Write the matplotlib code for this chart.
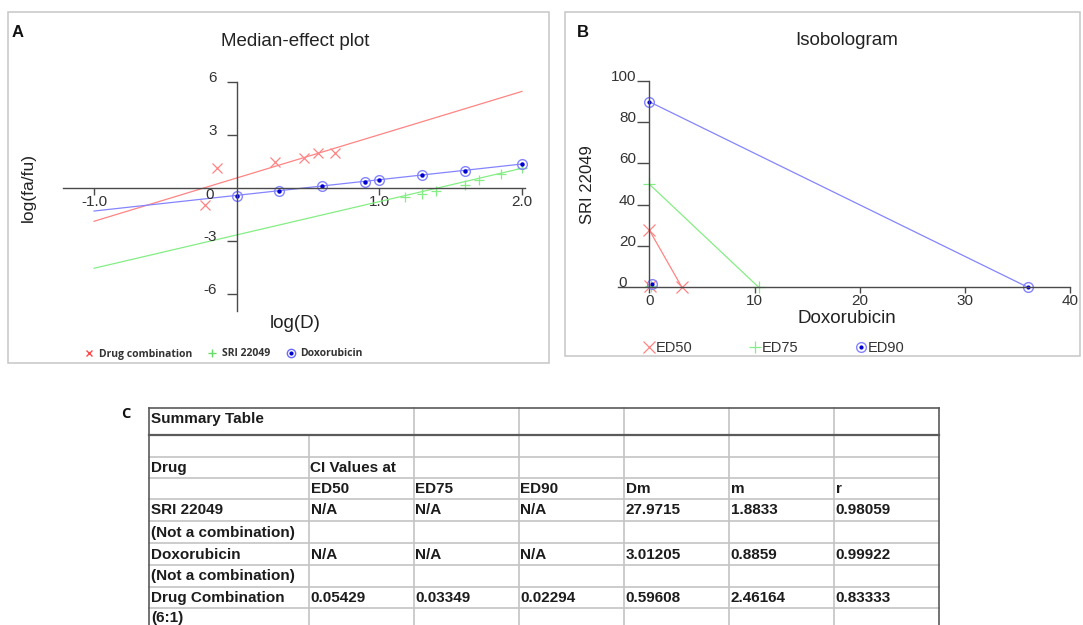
import matplotlib
matplotlib.use("Agg")
import matplotlib.pyplot as plt
from matplotlib.lines import Line2D
from matplotlib.patches import Rectangle

plt.rcParams['font.family'] = ['Liberation Sans', 'DejaVu Sans']

W, H = 1083, 625

# ---- panel A: median-effect plot (log D vs log(fa/fu)) ----
combo_logd = [-0.22, -0.14, 0.27, 0.47, 0.57, 0.69]
combo_logfa = [-0.98, 1.10, 1.47, 1.68, 1.98, 1.98]
sri_logd = [1.18, 1.30, 1.40, 1.60, 1.70, 1.85, 2.00]
sri_logfa = [-0.54, -0.36, -0.17, 0.15, 0.44, 0.78, 1.12]
dox_logd = [0.00, 0.30, 0.60, 0.90, 1.00, 1.30, 1.60, 2.00]
dox_logfa = [-0.45, -0.19, 0.11, 0.34, 0.44, 0.72, 0.96, 1.34]
fit_x = [-1.0, 2.0]
combo_fit = [-1.90, 5.45]
sri_fit = [-4.56, 1.10]
dox_fit = [-1.32, 1.34]

# ---- panel B: isobologram ----
ed_names = ['ED50', 'ED75', 'ED90']
sri_alone = [27.7, 49.9, 89.8]
dox_alone = [3.1, 10.4, 36.0]
mix_dox = [0.09, 0.14, 0.23]
mix_sri = [0.5, 0.85, 1.45]

# ---- panel C: summary table ----
table_title = 'Summary Table'
head1 = ['Drug', 'CI Values at', '', '', '', '', '']
head2 = ['', 'ED50', 'ED75', 'ED90', 'Dm', 'm', 'r']
drugs = ['SRI 22049', 'Doxorubicin', 'Drug Combination']
drug_notes = ['(Not a combination)', '(Not a combination)', '(6:1)']
ci50 = ['N/A', 'N/A', '0.05429']
ci75 = ['N/A', 'N/A', '0.03349']
ci90 = ['N/A', 'N/A', '0.02294']
dm = ['27.9715', '3.01205', '0.59608']
m_vals = ['1.8833', '0.8859', '2.46164']
r_vals = ['0.98059', '0.99922', '0.83333']

RED = '#ff8484'
GREEN = '#84ee84'
BLUE = '#8484ff'
DOT = '#0000d0'
AXC = '#4a4a4a'
TXT = '#222222'

fig = plt.figure(figsize=(W / 100, H / 100), dpi=100)
bg = fig.add_axes([0, 0, 1, 1])
bg.set_xlim(0, W)
bg.set_ylim(H, 0)
bg.axis('off')


def px_axes(x0, y0, x1, y1):
    ax = fig.add_axes([x0 / W, 1 - y1 / H, (x1 - x0) / W, (y1 - y0) / H])
    ax.patch.set_alpha(0)
    return ax


def center_axes(ax, xb, yb):
    for s in ['top', 'right']:
        ax.spines[s].set_visible(False)
    for s in ['left', 'bottom']:
        ax.spines[s].set_position(('data', 0))
        ax.spines[s].set_color(AXC)
        ax.spines[s].set_linewidth(1.0)
    ax.spines['bottom'].set_bounds(*xb)
    ax.spines['left'].set_bounds(*yb)


# panel frames
bg.add_patch(Rectangle((8.3, 11.7), 541, 351.3, fill=False, ec='#c6c6c6', lw=1.1))
bg.add_patch(Rectangle((565, 11.7), 515, 344.3, fill=False, ec='#c6c6c6', lw=1.1))

# ================= A =================
axA = px_axes(51.3, 71.1, 536.2, 314.9)
axA.set_xlim(-1.3, 2.1)
axA.set_ylim(-7.2, 6.6)
center_axes(axA, (-1.22, 2.02), (-7.0, 6.0))

axA.plot(fit_x, combo_fit, color=RED, lw=0.9)
axA.plot(fit_x, sri_fit, color=GREEN, lw=0.9)
axA.plot(fit_x, dox_fit, color=BLUE, lw=0.9)
axA.plot(combo_logd, combo_logfa, ls='none', marker='x', ms=7, mew=0.9, color=RED)
axA.plot(sri_logd, sri_logfa, ls='none', marker='+', ms=7, mew=0.9, color=GREEN)
axA.plot(dox_logd, dox_logfa, ls='none', marker='o', ms=7, mfc='none', mec=BLUE, mew=1.0)
axA.plot(dox_logd, dox_logfa, ls='none', marker='o', ms=2.2, color=DOT)

axA.set_xticks([-1, 1, 2], ['-1.0', '1.0', '2.0'])
axA.tick_params(axis='x', direction='out', length=5, width=1, color=AXC,
                pad=0.5, labelsize=11, labelcolor='#333333')
axA.set_yticks([-6, -3, 3, 6])
axA.tick_params(axis='y', direction='out', length=7.4, width=1, color=AXC, labelleft=False)
for v in [-6, -3, 3, 6]:
    axA.annotate(str(v), (0, v), xytext=(-20, 4), textcoords='offset pixels',
                 ha='right', va='center', fontsize=11, color='#333333')
axA.annotate('0', (0, 0), xytext=(-27.4, -7.3), textcoords='offset pixels',
             ha='center', va='center', fontsize=11, color='#333333')

bg.text(12, 37, 'A', fontsize=12, fontweight='bold', color='#111111')
bg.text(295, 45.5, 'Median-effect plot', ha='center', va='baseline', fontsize=13.5, color=TXT)
bg.text(295.5, 328.5, 'log(D)', ha='center', va='baseline', fontsize=13.5, color=TXT)
bg.text(28.3, 187.8, 'log(fa/fu)', ha='center', va='center', rotation=90, fontsize=12.5, color=TXT)

hA = [Line2D([], [], ls='none', marker='x', ms=5, mew=1.0, color='#ff4a4a'),
      Line2D([], [], ls='none', marker='+', ms=6, mew=1.0, color='#66dd66'),
      (Line2D([], [], ls='none', marker='o', ms=6, mfc='none', mec='#6a6aff', mew=1.0),
       Line2D([], [], ls='none', marker='o', ms=2, color=DOT))]
fig.legend(hA, ['Drug combination', 'SRI 22049', 'Doxorubicin'], ncol=3, frameon=False,
           loc='center left', bbox_to_anchor=(85.1 / W, 1 - 354 / H),
           bbox_transform=fig.transFigure, borderpad=0, borderaxespad=0,
           handlelength=0.8, handletextpad=0.55, columnspacing=1.52,
           prop={'family': 'Open Sans', 'weight': 'bold', 'size': 7.5}, labelcolor='#333333')

# ================= B =================
axB = px_axes(612.5, 72.4, 1080.6, 299.7)
axB.set_xlim(-3.5, 41)
axB.set_ylim(-6, 104)
center_axes(axB, (-2.94, 40), (0, 100))

styles = [dict(marker='x', ms=8, mew=0.9, color=RED),
          dict(marker='+', ms=9, mew=0.9, color=GREEN),
          dict(marker='o', ms=7, mfc='none', mec=BLUE, mew=1.0, color=BLUE)]
for i in range(3):
    axB.plot([0, dox_alone[i]], [sri_alone[i], 0], color=styles[i]['color'], lw=0.9)
    axB.plot([0, dox_alone[i]], [sri_alone[i], 0], ls='none', **styles[i])
    axB.plot([mix_dox[i]], [mix_sri[i]], ls='none', **styles[i])
axB.plot([0, dox_alone[2], mix_dox[2]], [sri_alone[2], 0, mix_sri[2]], ls='none',
         marker='o', ms=2, color=DOT)

axB.set_xticks([0, 10, 20, 30, 40])
axB.tick_params(axis='x', direction='out', length=4, width=1, color=AXC,
                pad=1, labelsize=11, labelcolor='#333333')
axB.set_yticks([20, 40, 60, 80, 100])
axB.tick_params(axis='y', direction='out', length=8.6, width=1, color=AXC, labelleft=False)
for v in [20, 40, 60, 80, 100]:
    axB.annotate(str(v), (0, v), xytext=(-13.3, 4), textcoords='offset pixels',
                 ha='right', va='center', fontsize=11, color='#333333')
axB.annotate('0', (0, 0), xytext=(-22.6, 4), textcoords='offset pixels',
             ha='right', va='center', fontsize=11, color='#333333')

bg.text(577, 37, 'B', fontsize=12, fontweight='bold', color='#111111')
bg.text(846.8, 45, 'Isobologram', ha='center', va='baseline', fontsize=13.5, color=TXT)
bg.text(846.7, 322.7, 'Doxorubicin', ha='center', va='baseline', fontsize=13.5, color=TXT)
bg.text(587, 184.2, 'SRI 22049', ha='center', va='center', rotation=90, fontsize=12, color=TXT)

hB = [Line2D([], [], ls='none', marker='x', ms=8, mew=0.9, color=RED),
      Line2D([], [], ls='none', marker='+', ms=9, mew=0.9, color=GREEN),
      (Line2D([], [], ls='none', marker='o', ms=7, mfc='none', mec=BLUE, mew=1.0),
       Line2D([], [], ls='none', marker='o', ms=2, color=DOT))]
fig.legend(hB, ed_names, ncol=3, frameon=False,
           loc='center left', bbox_to_anchor=(644.2 / W, 1 - 348.3 / H),
           bbox_transform=fig.transFigure, borderpad=0, borderaxespad=0,
           handlelength=0.7, handletextpad=0.1, columnspacing=3.95,
           prop={'size': 10.5}, labelcolor='#333333')

# ================= C =================
bg.text(121.5, 418.5, 'C', fontsize=10.5, fontweight='bold', family='Open Sans', color='#111111')

col_edges = [149.3, 309, 414, 518.7, 624.3, 729.3, 834.3, 939.3]
row_edges = [407.7, 435, 456.7, 477.7, 499, 521, 543.3, 565, 586.7, 608.3, 627]
LIGHT = '#c4c4c4'
DARK = '#5a5a5a'

for y in row_edges[2:]:
    bg.plot([col_edges[0], col_edges[-1]], [y, y], color=LIGHT, lw=1.2)
for i, x in enumerate(col_edges[1:-1], start=1):
    top = row_edges[1] if i == 1 else row_edges[0]
    bg.plot([x, x], [top, H + 5], color=LIGHT, lw=1.2)
bg.plot([col_edges[0], col_edges[-1]], [row_edges[0], row_edges[0]], color=DARK, lw=1.2)
bg.plot([col_edges[0], col_edges[-1]], [row_edges[1], row_edges[1]], color=DARK, lw=1.6)
for x in [col_edges[0], col_edges[-1]]:
    bg.plot([x, x], [row_edges[0], H + 5], color=DARK, lw=1.2)

rows = [[''] * 7, head1, head2]
for k in range(3):
    rows.append([drugs[k], ci50[k], ci75[k], ci90[k], dm[k], m_vals[k], r_vals[k]])
    rows.append([drug_notes[k]] + [''] * 6)

tkw = dict(fontsize=11, fontweight='bold', color='#1c1c1c', va='baseline', ha='left')
bg.text(col_edges[0] + 2, 423.3, table_title, **tkw)
for r, row in enumerate(rows):
    yc = (row_edges[r + 1] + row_edges[r + 2]) / 2 + 4.5
    for c, txt in enumerate(row):
        if txt:
            bg.text(col_edges[c] + 1.5, yc, txt, **tkw)

fig.savefig('out.png', dpi=100)
